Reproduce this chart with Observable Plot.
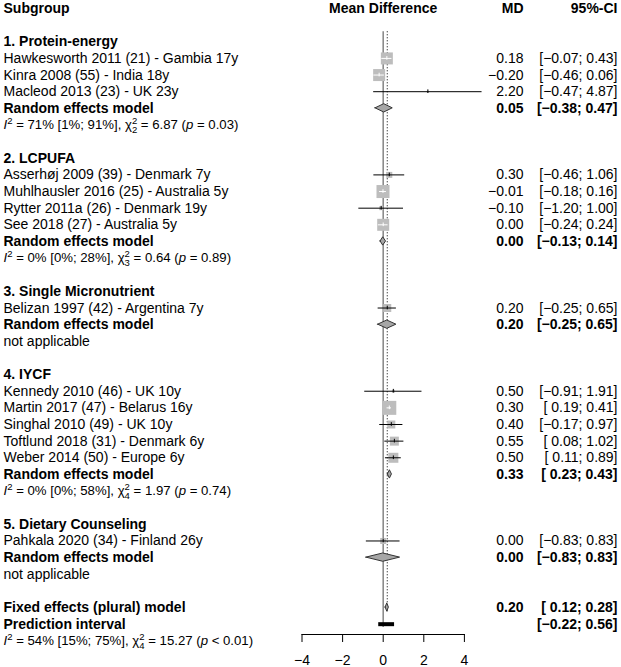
<!DOCTYPE html>
<html>
<head>
<meta charset="utf-8">
<script src="https://cdn.jsdelivr.net/npm/d3@7"></script>
<script src="https://cdn.jsdelivr.net/npm/@observablehq/plot@0.6"></script>
<style>
  body { margin: 0; background: #fff; }
  #chart { position: relative; width: 621px; height: 667px; font-family: "Liberation Sans", Arial, sans-serif; }
  #chart svg { position: absolute; left: 0; top: 0; }
</style>
</head>
<body>
<div id="chart"></div>
<script>
// ---------------- data ----------------
const headers = { label: "Subgroup", plot: "Mean Difference", md: "MD", ci: "95%-CI" };
const subgroups = ["1. Protein-energy", "2. LCPUFA", "3. Single Micronutrient", "4. IYCF", "5. Dietary Counseling"];
const studyLabels = [
  "Hawkesworth 2011 (21) - Gambia 17y",
  "Kinra 2008 (55) - India 18y",
  "Macleod 2013 (23) - UK 23y",
  "Asserhøj 2009 (39) - Denmark 7y",
  "Muhlhausler 2016 (25) - Australia 5y",
  "Rytter 2011a (26) - Denmark 19y",
  "See 2018 (27) - Australia 5y",
  "Belizan 1997 (42) - Argentina 7y",
  "Kennedy 2010 (46) - UK 10y",
  "Martin 2017 (47) - Belarus 16y",
  "Singhal 2010 (49) - UK 10y",
  "Toftlund 2018 (31) - Denmark 6y",
  "Weber 2014 (50) - Europe 6y",
  "Pahkala 2020 (34) - Finland 26y"
];
const studyGroup  = [0, 0, 0, 1, 1, 1, 1, 2, 3, 3, 3, 3, 3, 4];
const studyMD     = [0.18, -0.20, 2.20, 0.30, -0.01, -0.10, 0.00, 0.20, 0.50, 0.30, 0.40, 0.55, 0.50, 0.00];
const studyLo     = [-0.07, -0.46, -0.47, -0.46, -0.18, -1.20, -0.24, -0.25, -0.91, 0.19, -0.17, 0.08, 0.11, -0.83];
const studyHi     = [0.43, 0.06, 4.87, 1.06, 0.16, 1.00, 0.24, 0.65, 1.91, 0.41, 0.97, 1.02, 0.89, 0.83];
const studyWeight = [11.9, 11.9, 0.3, 3.0, 14.0, 1.3, 11.9, 5.3, 0.7, 16.2, 5.3, 6.7, 8.3, 3.0]; // % (estimated)

const randomMD = [0.05, 0.00, 0.20, 0.33, 0.00];
const randomLo = [-0.38, -0.13, -0.25, 0.23, -0.83];
const randomHi = [0.47, 0.14, 0.65, 0.43, 0.83];

const hetI2   = ["71%", "0%", null, "0%", null];
const hetI2CI = ["[1%; 91%]", "[0%; 28%]", null, "[0%; 58%]", null];
const hetDf   = [2, 3, null, 4, null];
const hetQ    = ["6.87", "0.64", null, "1.97", null];
const hetP    = ["= 0.03", "= 0.89", null, "= 0.74", null];

const fixedMD = 0.20, fixedLo = 0.12, fixedHi = 0.28;
const predLo = -0.22, predHi = 0.56;
const overallI2 = "54%", overallI2CI = "[15%; 75%]", overallDf = 4, overallQ = "15.27", overallP = "< 0.01";

const xDomain = [-4, 4];
const xTicks = [-4, -2, 0, 2, 4];

// ---------------- layout constants ----------------
const W = 621, H = 667;
const FONT = '"Liberation Sans", Arial, sans-serif';
const rowTop = 8, rowStep = 16.64;
const plotLeft = 301.5, plotRight = 463.9;
const pxPerUnit = (plotRight - plotLeft) / (xDomain[1] - xDomain[0]);
const maxSide = 14; // px side of the largest square

// ---------------- build rows ----------------
const f2 = d3.format(".2f");
const fmtCI = (lo, hi) => `[${lo < 0 ? "" : " "}${f2(lo)}; ${f2(hi)}]`;
const subDigits = { 2: "₂", 3: "₃", 4: "₄" };
const hetText = (i2, ci, df, q, p) => `I² = ${i2} ${ci}, χ²${subDigits[df]} = ${q} (p ${p})`;

const rows = [];
let r = 2;
subgroups.forEach((g, gi) => {
  rows.push({ row: r++, label: g, kind: "title" });
  studyLabels.forEach((s, i) => {
    if (studyGroup[i] !== gi) return;
    rows.push({ row: r++, label: s, kind: "study", md: studyMD[i], lo: studyLo[i], hi: studyHi[i], w: studyWeight[i] });
  });
  rows.push({ row: r++, label: "Random effects model", kind: "random", md: randomMD[gi], lo: randomLo[gi], hi: randomHi[gi] });
  rows.push({ row: r++, label: hetI2[gi] == null ? "not applicable" : hetText(hetI2[gi], hetI2CI[gi], hetDf[gi], hetQ[gi], hetP[gi]), kind: "het" });
  r++;
});
rows.push({ row: r++, label: "Fixed effects (plural) model", kind: "fixed", md: fixedMD, lo: fixedLo, hi: fixedHi });
rows.push({ row: r++, label: "Prediction interval", kind: "pred", lo: predLo, hi: predHi });
rows.push({ row: r++, label: hetText(overallI2, overallI2CI, overallDf, overallQ, overallP), kind: "het" });
const lastRow = r - 1;

rows.forEach(d => {
  d.mdText = d.md == null ? "" : f2(d.md);
  d.ciText = d.lo == null ? "" : fmtCI(d.lo, d.hi);
});

const boldKinds = new Set(["title", "random", "fixed", "pred"]);
const studies = rows.filter(d => d.kind === "study");
studies.forEach(d => {
  d.side = maxSide * Math.sqrt(d.w / d3.max(studyWeight));
  d.inside = (d.hi - d.lo) * pxPerUnit < d.side;
});
const summaries = rows.filter(d => d.kind === "random" || d.kind === "fixed");
const diamondPts = summaries.flatMap((d, i) => [
  { id: i, x: d.lo, y1: d.row, y2: d.row },
  { id: i, x: d.md, y1: d.row - 0.25, y2: d.row + 0.25 },
  { id: i, x: d.hi, y1: d.row, y2: d.row }
]);
const predRow = rows.find(d => d.kind === "pred");
const fixedRow = rows.find(d => d.kind === "fixed");

const yScale = { domain: [0, lastRow], range: [rowTop, rowTop + lastRow * rowStep], axis: null };

// ---------------- text table ----------------
const textPlot = Plot.plot({
  width: W, height: H,
  marginLeft: 3, marginRight: 4, marginTop: 0, marginBottom: 0,
  style: { background: "transparent", fontFamily: FONT, fontSize: "14px", overflow: "visible" },
  x: { type: "point", domain: ["MD", "CI"], range: [523, 617], padding: 0, axis: null },
  y: yScale,
  marks: [
    Plot.text([headers], { y: () => 0, text: "label", frameAnchor: "left", textAnchor: "start", fontWeight: "bold", fill: "black" }),
    Plot.text([headers], { x: () => "MD", y: () => 0, text: "md", textAnchor: "end", fontWeight: "bold", fill: "black" }),
    Plot.text([headers], { x: () => "CI", y: () => 0, text: "ci", textAnchor: "end", fontWeight: "bold", fill: "black" }),
    Plot.text(rows.filter(d => boldKinds.has(d.kind)), { y: "row", text: "label", frameAnchor: "left", textAnchor: "start", fontWeight: "bold", fill: "black" }),
    Plot.text(rows.filter(d => !boldKinds.has(d.kind)), { y: "row", text: "label", frameAnchor: "left", textAnchor: "start", fill: "black" }),
    Plot.text(rows.filter(d => d.kind === "study"), { x: () => "MD", y: "row", text: "mdText", textAnchor: "end", fill: "black" }),
    Plot.text(rows.filter(d => d.kind === "study"), { x: () => "CI", y: "row", text: "ciText", textAnchor: "end", fill: "black" }),
    Plot.text(rows.filter(d => boldKinds.has(d.kind) && d.mdText), { x: () => "MD", y: "row", text: "mdText", textAnchor: "end", fontWeight: "bold", fill: "black" }),
    Plot.text(rows.filter(d => boldKinds.has(d.kind) && d.ciText), { x: () => "CI", y: "row", text: "ciText", textAnchor: "end", fontWeight: "bold", fill: "black" })
  ]
});

// rich formatting of heterogeneity statistics
const NS = "http://www.w3.org/2000/svg";
function addSpan(parent, text, attrs) {
  const t = document.createElementNS(NS, "tspan");
  for (const k in attrs) t.setAttribute(k, attrs[k]);
  t.textContent = text;
  parent.appendChild(t);
}
const fromSub = { "₂": "2", "₃": "3", "₄": "4" };
textPlot.querySelectorAll("text").forEach(el => {
  const m = el.textContent.match(/^I² = (.*?), χ²(.) = (.*?) \(p (.*)\)$/);
  if (!m) return;
  el.textContent = "";
  el.setAttribute("font-size", "13.2");
  addSpan(el, "I", { "font-style": "italic" });
  addSpan(el, "2", { "font-size": "9.5", dy: "-5" });
  addSpan(el, ` = ${m[1]}, χ`, { dy: "5" });
  addSpan(el, fromSub[m[2]], { "font-size": "9.5", dy: "3.5" });
  addSpan(el, "2", { "font-size": "9.5", dx: "-5.3", dy: "-9" });
  addSpan(el, ` = ${m[3]} (`, { dy: "5.5" });
  addSpan(el, "p", { "font-style": "italic" });
  addSpan(el, ` ${m[4]})`, {});
});

// ---------------- forest ----------------
const forest = Plot.plot({
  width: W, height: H,
  marginLeft: plotLeft, marginRight: W - plotRight, marginTop: 0, marginBottom: 33,
  style: { background: "transparent", fontFamily: FONT, fontSize: "14px", overflow: "visible" },
  x: { domain: xDomain },
  y: yScale,
  r: { type: "sqrt", domain: [0, d3.max(studyWeight)], range: [0, maxSide / Math.sqrt(Math.PI)] },
  marks: [
    Plot.ruleX([0], { y1: 1.4, y2: predRow.row + 0.2, stroke: "#8c8c8c", strokeWidth: 1.6 }),
    Plot.ruleX([fixedMD], { y1: 1.4, y2: fixedRow.row + 0.3, stroke: "black", strokeDasharray: "1,2" }),
    Plot.dot(studies, { x: "md", y: "row", r: "w", symbol: "square", fill: "#bdbdbd", stroke: null }),
    Plot.ruleY(studies.filter(d => !d.inside), { x1: "lo", x2: "hi", y: "row", stroke: "black", strokeWidth: 1 }),
    Plot.ruleY(studies.filter(d => d.inside), { x1: "lo", x2: "hi", y: "row", stroke: "white", strokeWidth: 1 }),
    Plot.ruleX(studies.filter(d => !d.inside), { x: "md", y1: d => d.row - 0.11, y2: d => d.row + 0.11, stroke: "black", strokeWidth: 1 }),
    Plot.ruleX(studies.filter(d => d.inside), { x: "md", y1: d => d.row - 0.11, y2: d => d.row + 0.11, stroke: "white", strokeWidth: 1 }),
    Plot.areaY(diamondPts, { x: "x", y1: "y1", y2: "y2", z: "id", fill: "#a6a6a6", stroke: "#333", strokeWidth: 1, curve: "linear" }),
    Plot.ruleY([predRow], { x1: "lo", x2: "hi", y: "row", stroke: "black", strokeWidth: 4 }),
    Plot.frame({ anchor: "bottom", stroke: "black" }),
    Plot.axisX({ ticks: xTicks, tickSize: 8, tickPadding: 13, fontSize: 14, label: null, stroke: "black", fill: "black" }),
    Plot.text([headers], { y: () => 0, text: "plot", fontWeight: "bold", fill: "black" })
  ]
});

const chart = document.getElementById("chart");
chart.appendChild(textPlot);
chart.appendChild(forest);
</script>
</body>
</html>
